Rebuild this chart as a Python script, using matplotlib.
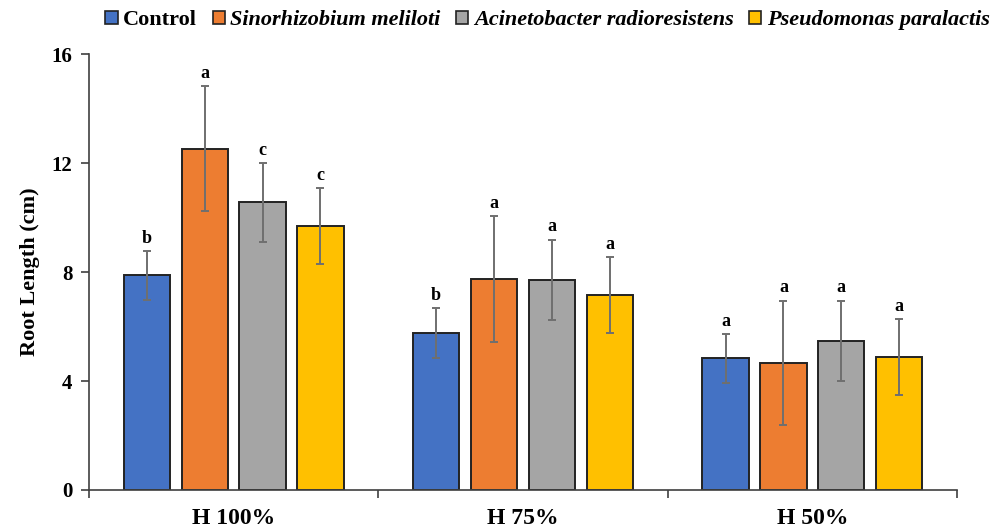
import matplotlib
matplotlib.use("Agg")
import matplotlib.pyplot as plt
from matplotlib.patches import Patch
import numpy as np

plt.rcParams['font.family'] = ['Liberation Serif', 'DejaVu Serif']
plt.rcParams['font.weight'] = 'bold'

groups = ["H 100%", "H 75%", "H 50%"]
treatments = ["Control", "Sinorhizobium meliloti", "Acinetobacter radioresistens", "Pseudomonas paralactis"]
colors = ["#4472C4", "#ED7D31", "#A5A5A5", "#FFC000"]

control = [7.88, 5.75, 4.83]
sinorhizobium = [12.53, 7.74, 4.67]
acinetobacter = [10.56, 7.72, 5.47]
pseudomonas = [9.70, 7.16, 4.89]

control_err = [0.90, 0.92, 0.90]
sinorhizobium_err = [2.30, 2.30, 2.28]
acinetobacter_err = [1.45, 1.47, 1.48]
pseudomonas_err = [1.39, 1.39, 1.39]

control_sig = ["b", "b", "a"]
sinorhizobium_sig = ["a", "a", "a"]
acinetobacter_sig = ["c", "a", "a"]
pseudomonas_sig = ["c", "a", "a"]

means = [control, sinorhizobium, acinetobacter, pseudomonas]
errs = [control_err, sinorhizobium_err, acinetobacter_err, pseudomonas_err]
sigs = [control_sig, sinorhizobium_sig, acinetobacter_sig, pseudomonas_sig]

fig = plt.figure(figsize=(10.03, 5.30), dpi=100)
ax = fig.add_axes([0.0887, 0.0755, 0.8655, 0.8225])

x = np.arange(len(groups))
offsets = [-0.3, -0.1, 0.1, 0.3]
width = 0.16

for m, e, s, c, off in zip(means, errs, sigs, colors, offsets):
    xs = x + off
    ax.bar(xs, m, width=width, color=c, edgecolor="#222222", linewidth=1.4, zorder=2)
    ax.errorbar(xs, m, yerr=e, fmt='none', ecolor="#6f6f6f", elinewidth=1.4,
                capsize=3, capthick=1.4, zorder=3)
    for xi, mi, ei, si in zip(xs, m, e, s):
        ax.annotate(si, (xi, mi + ei), xytext=(0, 3), textcoords='offset points',
                    ha='center', va='bottom', fontsize=13, fontweight='bold')

ax.set_xlim(-0.5, 2.5)
ax.set_ylim(0, 16)
ax.set_yticks([0, 4, 8, 12, 16])
ax.set_yticklabels(["0", "4", "8", "12", "16"], fontsize=15, fontweight='bold')
ax.set_xticks([-0.5, 0.5, 1.5, 2.5])
ax.set_xticklabels([])
ax.set_xticks(x, minor=True)
ax.set_xticklabels(groups, minor=True, fontsize=17, fontweight='bold')
ax.tick_params(axis='x', which='minor', length=0, pad=13)
ax.tick_params(axis='x', which='major', length=6, width=1.2, color="#404040")
ax.tick_params(axis='y', length=6, width=1.2, color="#404040", pad=6)
for side in ['top', 'right']:
    ax.spines[side].set_visible(False)
for side in ['left', 'bottom']:
    ax.spines[side].set_color("#404040")
    ax.spines[side].set_linewidth(1.2)

ax.set_ylabel("Root Length (cm)", fontsize=16, fontweight='bold', labelpad=8)

handles = [Patch(facecolor=c, edgecolor="#222222", linewidth=1.2) for c in colors]
leg = fig.legend(handles, treatments, loc='upper center', bbox_to_anchor=(0.546, 1.018),
                 ncol=4, frameon=False, fontsize=16, handlelength=0.55, handleheight=0.55,
                 handletextpad=0.25, columnspacing=0.7)
for i, t in enumerate(leg.get_texts()):
    t.set_fontweight('bold')
    if i > 0:
        t.set_fontstyle('italic')

fig.savefig("out.png", dpi=100)
